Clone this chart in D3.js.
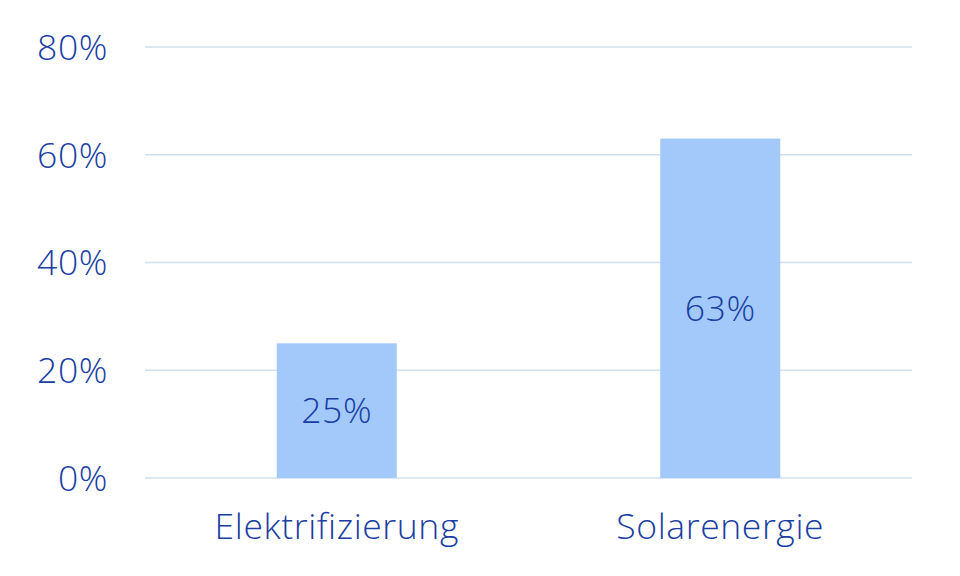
<!DOCTYPE html>
<html><head><meta charset="utf-8">
<script src="https://cdn.jsdelivr.net/npm/d3@7"></script>
<style>body{margin:0;background:#fff}svg{display:block}</style>
</head><body><svg id="c" width="960" height="576"></svg>
<script>
const categories = ["Elektrifizierung", "Solarenergie"];
const values = [25, 63];
const valueLabels = ["25%", "63%"];
const yTicks = [0, 20, 40, 60, 80];
const yTickLabels = ["0%", "20%", "40%", "60%", "80%"];

(function () {
const svg = d3.select("#c");
const mLeft = 145, mRight = 912, mTop = 47, mBottom = 478;
const textColor = "#1a3ea2", barColor = "#a3c9fb", gridColor = "#cfe0f0";
const font = "'Open Sans', sans-serif";

const x = d3.scaleBand().domain(categories).range([mLeft, mRight]).paddingInner(0.687).paddingOuter(0.3435);
const y = d3.scaleLinear().domain([0, 80]).range([mBottom, mTop]);

function styleText(sel) {
  return sel.attr("font-family", font).attr("font-size", 35.5).attr("font-weight", 350)
    .attr("letter-spacing", "0.6px").attr("fill", textColor);
}

svg.append("g").selectAll("line").data(yTicks).join("line")
  .attr("x1", mLeft).attr("x2", mRight)
  .attr("y1", d => y(d)).attr("y2", d => y(d))
  .attr("stroke", gridColor).attr("stroke-width", 1.5);

svg.append("g").selectAll("text").data(yTicks).join("text")
  .attr("x", 108).attr("y", d => y(d)).attr("dy", "0.36em")
  .attr("text-anchor", "end").call(styleText).text((d, i) => yTickLabels[i]);

svg.append("g").selectAll("rect").data(values).join("rect")
  .attr("x", (d, i) => x(categories[i])).attr("width", x.bandwidth())
  .attr("y", d => y(d)).attr("height", d => y(0) - y(d))
  .attr("fill", barColor);

svg.append("g").selectAll("text").data(values).join("text")
  .attr("x", (d, i) => x(categories[i]) + x.bandwidth() / 2)
  .attr("y", d => (y(d) + y(0)) / 2).attr("dy", "0.36em")
  .attr("text-anchor", "middle").call(styleText).text((d, i) => valueLabels[i]);

svg.append("g").selectAll("text").data(categories).join("text")
  .attr("x", d => x(d) + x.bandwidth() / 2).attr("y", 526).attr("dy", "0.36em")
  .attr("text-anchor", "middle").call(styleText).text(d => d);
})();
</script></body></html>
